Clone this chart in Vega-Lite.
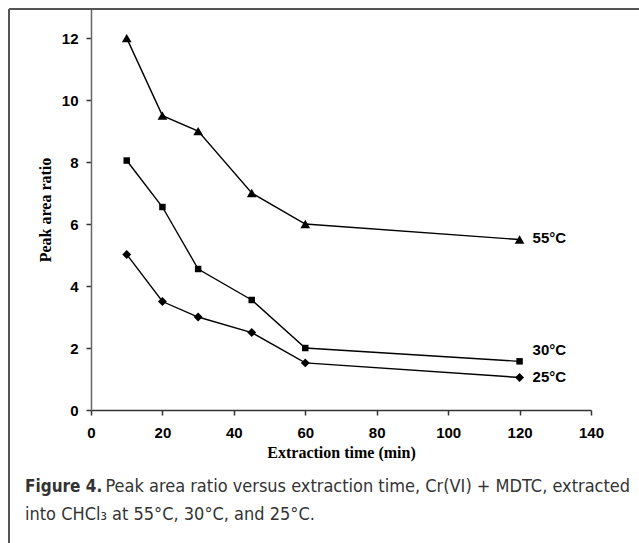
{
  "$schema": "https://vega.github.io/schema/vega-lite/v6.json",
  "width": 500,
  "height": 401,
  "autosize": "none",
  "padding": {"left": 91, "top": 9, "right": 48, "bottom": 133},
  "background": "white",
  "config": {"view": {"stroke": null}},
  "data": {
    "values": [
      {"series": "55°C", "time": 10, "ratio": 12.0},
      {"series": "55°C", "time": 20, "ratio": 9.5},
      {"series": "55°C", "time": 30, "ratio": 9.0},
      {"series": "55°C", "time": 45, "ratio": 7.0},
      {"series": "55°C", "time": 60, "ratio": 6.0},
      {"series": "55°C", "time": 120, "ratio": 5.5},
      {"series": "30°C", "time": 10, "ratio": 8.05},
      {"series": "30°C", "time": 20, "ratio": 6.55},
      {"series": "30°C", "time": 30, "ratio": 4.55},
      {"series": "30°C", "time": 45, "ratio": 3.55},
      {"series": "30°C", "time": 60, "ratio": 2.0},
      {"series": "30°C", "time": 120, "ratio": 1.57},
      {"series": "25°C", "time": 10, "ratio": 5.02},
      {"series": "25°C", "time": 20, "ratio": 3.5},
      {"series": "25°C", "time": 30, "ratio": 3.0},
      {"series": "25°C", "time": 45, "ratio": 2.5},
      {"series": "25°C", "time": 60, "ratio": 1.52},
      {"series": "25°C", "time": 120, "ratio": 1.05}
    ]
  },
  "title": {
    "text": "Figure 4.",
    "subtitle": [
      "\u200b\u2007\u2007\u2007\u2007\u2007\u2007\u2007\u2008\u200a\u200aPeak area ratio versus extraction time, Cr(VI) + MDTC, extracted",
      "into CHCl₃ at 55°C, 30°C, and 25°C."
    ],
    "orient": "bottom",
    "anchor": "start",
    "frame": "group",
    "dx": -66,
    "offset": -65,
    "font": "DejaVu Sans Condensed, Liberation Sans, sans-serif",
    "fontSize": 17,
    "fontWeight": "bold",
    "color": "#333333",
    "subtitleFont": "DejaVu Sans Condensed, Liberation Sans, sans-serif",
    "subtitleFontSize": 18,
    "subtitleFontWeight": "normal",
    "subtitleColor": "#333333",
    "subtitleLineHeight": 28,
    "subtitlePadding": -18
  },
  "encoding": {
    "x": {
      "field": "time",
      "type": "quantitative",
      "scale": {"domain": [0, 140], "nice": false, "zero": false},
      "axis": {
        "title": "Extraction time (min)",
        "values": [0, 20, 40, 60, 80, 100, 120, 140],
        "grid": false,
        "domainColor": "#333333",
        "domainWidth": 1.5,
        "tickColor": "#333333",
        "tickWidth": 1.5,
        "tickSize": 5,
        "labelFont": "Liberation Sans",
        "labelFontWeight": "bold",
        "labelFontSize": 15,
        "labelColor": "#000000",
        "labelPadding": 10,
        "labelFlush": false,
        "labelOverlap": false,
        "titleFont": "Liberation Serif",
        "titleFontSize": 16,
        "titleFontWeight": "bold",
        "titleColor": "#000000",
        "titlePadding": 4
      }
    },
    "y": {
      "field": "ratio",
      "type": "quantitative",
      "scale": {"domain": [0, 12.94], "nice": false, "zero": false},
      "axis": {
        "title": "Peak area ratio",
        "values": [0, 2, 4, 6, 8, 10, 12],
        "grid": false,
        "domainColor": "#666666",
        "domainWidth": 1.5,
        "tickColor": "#333333",
        "tickWidth": 1.5,
        "tickSize": 5,
        "labelFont": "Liberation Sans",
        "labelFontWeight": "bold",
        "labelFontSize": 15,
        "labelColor": "#000000",
        "labelPadding": 8,
        "labelOverlap": false,
        "titleFont": "Liberation Serif",
        "titleFontSize": 16,
        "titleFontWeight": "bold",
        "titleColor": "#000000",
        "titlePadding": 8
      }
    }
  },
  "layer": [
    {
      "mark": {"type": "rule", "color": "#555555", "strokeWidth": 2, "clip": false},
      "encoding": {
        "x": {"datum": -22.96, "type": "quantitative"},
        "x2": {"datum": 153.4},
        "y": {"datum": 12.94, "type": "quantitative"}
      }
    },
    {
      "mark": {"type": "rule", "color": "#555555", "strokeWidth": 2, "clip": false},
      "encoding": {
        "x": {"datum": -22.96, "type": "quantitative"},
        "y": {"datum": 12.94, "type": "quantitative"},
        "y2": {"datum": -4.3}
      }
    },
    {
      "mark": {"type": "line", "color": "#000000", "strokeWidth": 1.4},
      "encoding": {"detail": {"field": "series"}}
    },
    {
      "transform": [{"filter": "datum.series == '55°C'"}],
      "mark": {"type": "point", "shape": "triangle-up", "size": 95, "filled": true, "color": "#000000", "opacity": 1}
    },
    {
      "transform": [{"filter": "datum.series == '30°C'"}],
      "mark": {"type": "point", "shape": "square", "size": 42, "filled": true, "color": "#000000", "opacity": 1}
    },
    {
      "transform": [{"filter": "datum.series == '25°C'"}],
      "mark": {"type": "point", "shape": "diamond", "size": 80, "filled": true, "color": "#000000", "opacity": 1}
    },
    {
      "transform": [{"filter": "datum.time == 120 && datum.series == '55°C'"}],
      "mark": {"type": "text", "align": "left", "baseline": "middle", "dx": 13, "dy": -2, "font": "Liberation Sans", "fontWeight": "bold", "fontSize": 15, "color": "#000000"},
      "encoding": {"text": {"field": "series"}}
    },
    {
      "transform": [{"filter": "datum.time == 120 && datum.series == '30°C'"}],
      "mark": {"type": "text", "align": "left", "baseline": "middle", "dx": 13, "dy": -11, "font": "Liberation Sans", "fontWeight": "bold", "fontSize": 15, "color": "#000000"},
      "encoding": {"text": {"field": "series"}}
    },
    {
      "transform": [{"filter": "datum.time == 120 && datum.series == '25°C'"}],
      "mark": {"type": "text", "align": "left", "baseline": "middle", "dx": 13, "dy": 0, "font": "Liberation Sans", "fontWeight": "bold", "fontSize": 15, "color": "#000000"},
      "encoding": {"text": {"field": "series"}}
    }
  ]
}
